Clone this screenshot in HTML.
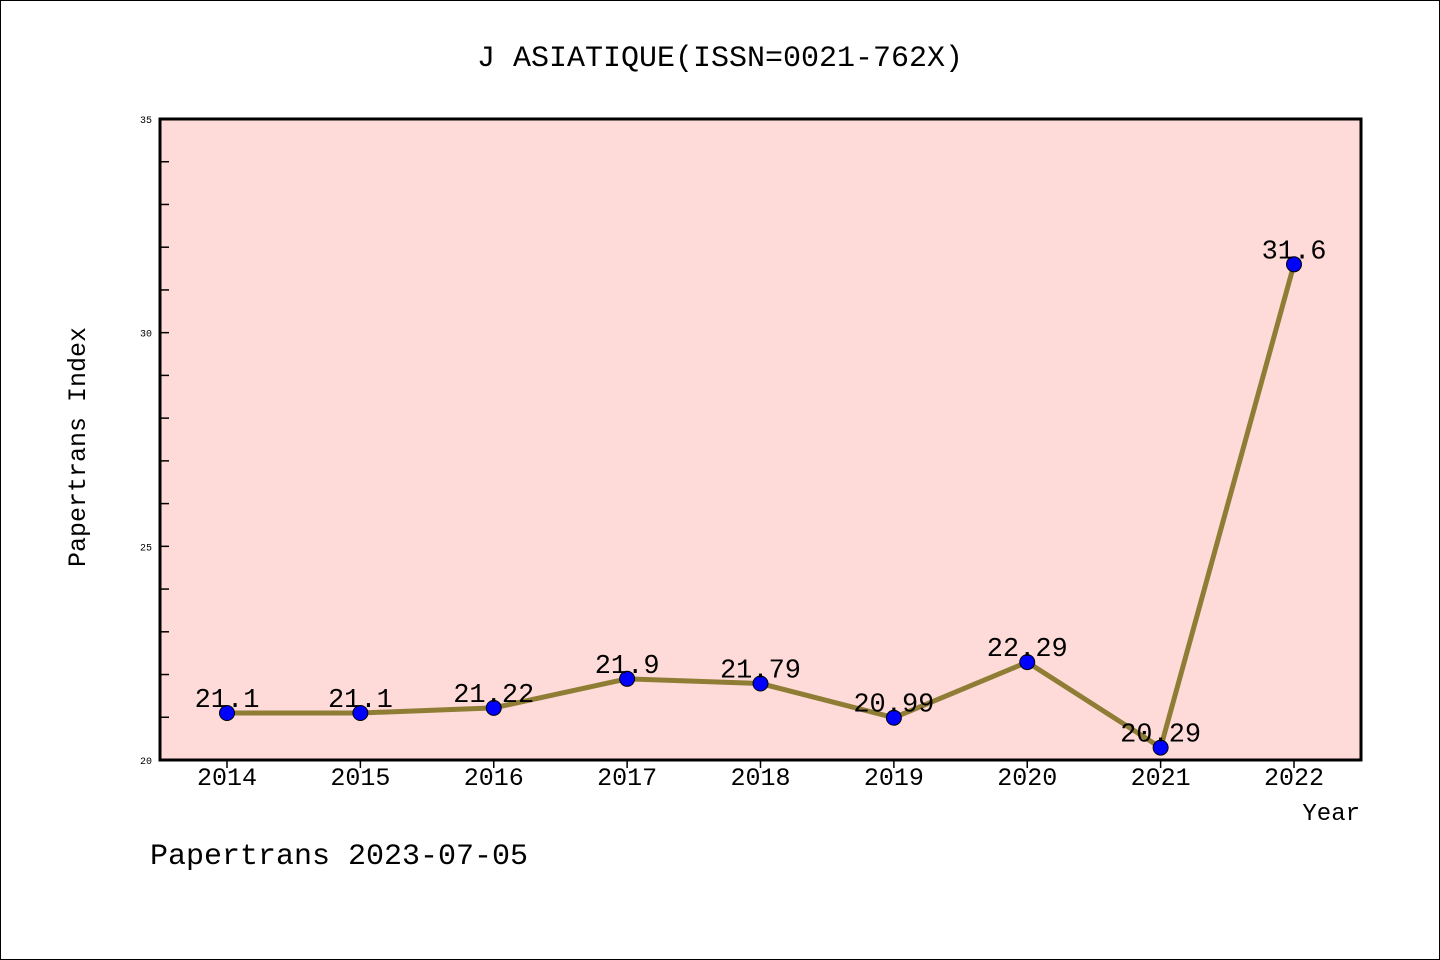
<!DOCTYPE html>
<html><head><meta charset="utf-8"><style>
html,body{margin:0;padding:0;background:#fff}
svg{display:block}
text{font-family:"Liberation Mono","WenQuanYi Zen Hei",monospace;fill:#000}
</style></head><body>
<svg id="chart" width="1440" height="960" xmlns="http://www.w3.org/2000/svg">
<rect x="0.5" y="0.5" width="1439" height="959" fill="#fff" stroke="#000"/>
<text x="720" y="66" font-size="30" text-anchor="middle">J ASIATIQUE(ISSN=0021-762X)</text>
<rect x="160" y="119" width="1201" height="641" fill="#fedbd8"/>
<g id="ticks"></g>
<g id="series"></g>
<rect x="160" y="119" width="1201" height="641" fill="none" stroke="#000" stroke-width="3"/>
<text transform="translate(85,447) rotate(-90)" font-size="25" text-anchor="middle">Papertrans Index</text>
<text x="1360" y="820" font-size="24" text-anchor="end">Year</text>
<text x="150" y="864" font-size="30">Papertrans 2023-07-05</text>
</svg>
<script>
const categories=["2014","2015","2016","2017","2018","2019","2020","2021","2022"];
const values=[21.1,21.1,21.22,21.9,21.79,20.99,22.29,20.29,31.6];
const valueLabels=["21.1","21.1","21.22","21.9","21.79","20.99","22.29","20.29","31.6"];
const yTickLabels=[20,25,30,35];
const yMin=20,yMax=35;
const NS="http://www.w3.org/2000/svg";
const L=160,R=1361,T=119,B=760;
function y(v){return B-(v-yMin)/(yMax-yMin)*(B-T);}
function x(i){return 227+i*(1294-227)/(categories.length-1);}
function mk(tag,attrs,parent){const e=document.createElementNS(NS,tag);for(const k in attrs)e.setAttribute(k,attrs[k]);parent.appendChild(e);return e;}
const tk=document.getElementById('ticks'),sr=document.getElementById('series');
for(let v=yMin+1;v<yMax;v++){const l=mk('line',{x1:L,x2:L+9,y1:y(v),y2:y(v),stroke:'#000','stroke-width':1.5},tk);

}
yTickLabels.forEach(v=>{const t=mk('text',{x:152,y:y(v)+4,'font-size':10,'text-anchor':'end'},tk);t.textContent=v;

});
categories.forEach((c,i)=>{const l=mk('line',{x1:x(i),x2:x(i),y1:B,y2:B+8,stroke:'#000','stroke-width':1.5},tk);


const t=mk('text',{x:x(i),y:785,'font-size':25,'text-anchor':'middle'},tk);t.textContent=c;

});
const pts=values.map((v,i)=>x(i)+','+y(v)).join(' ');
const pl=mk('polyline',{points:pts,fill:'none',stroke:'#8f7d35','stroke-width':5,'stroke-linejoin':'round'},sr);


values.forEach((v,i)=>{const c=mk('circle',{cx:x(i),cy:y(v),r:7.5,fill:'#0000ff',stroke:'#000','stroke-width':1},sr);


const t=mk('text',{x:x(i),y:y(v)-6,'font-size':27,'text-anchor':'middle'},sr);t.textContent=valueLabels[i];

});
</script>
</body></html>
